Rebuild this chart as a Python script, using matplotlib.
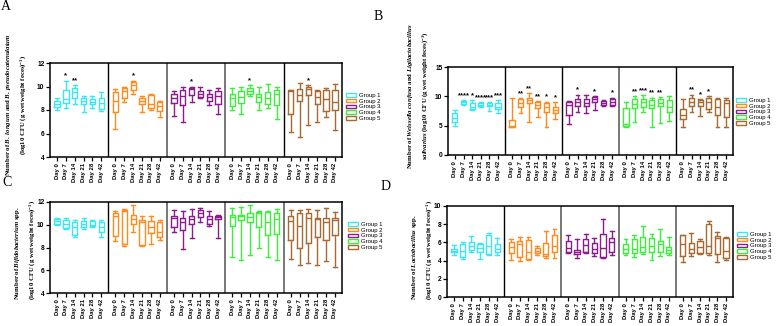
import matplotlib
matplotlib.use('Agg')
import matplotlib.pyplot as plt
from matplotlib.patches import Patch

plt.rcParams['font.family'] = ['Liberation Sans', 'DejaVu Sans']
plt.rcParams['mathtext.fontset'] = 'custom'
plt.rcParams['mathtext.rm'] = 'Liberation Serif:bold'
plt.rcParams['mathtext.it'] = 'Liberation Serif:italic:bold'
plt.rcParams['mathtext.bf'] = 'Liberation Serif:bold'

days = ['Day 0', 'Day 7', 'Day 14', 'Day 21', 'Day 28', 'Day 42']
groups = ['Group 1', 'Group 2', 'Group 3', 'Group 4', 'Group 5']
colors = ['#3ee6f4', '#ff8a1e', '#8a1c8c', '#3cef3c', '#a66a32']

# A: B. longum / B. pseudocatenulatum (group-major: g1 d0..d42, g2 ...)
a_lo = [8.0, 8.2, 8.5, 7.8, 8.2, 7.9, 6.4, 8.7, 9.4, 7.8, 8.0, 7.4, 7.5, 7.0, 8.7, 9.0, 8.4, 7.7,
        8.0, 7.7, 9.2, 8.0, 8.2, 7.2, 6.1, 5.7, 6.7, 7.0, 7.4, 6.3]
a_q1 = [8.25, 8.6, 9.0, 8.5, 8.5, 8.1, 7.8, 9.0, 9.7, 8.5, 8.2, 7.9, 8.6, 8.4, 9.3, 9.1, 8.8, 8.5,
        8.3, 8.6, 9.4, 8.7, 8.5, 8.4, 7.7, 8.8, 9.3, 8.5, 7.9, 8.0]
a_med = [8.5, 8.9, 9.5, 8.8, 8.7, 8.6, 8.8, 9.6, 10.1, 8.8, 8.5, 8.3, 9.0, 9.2, 9.8, 9.4, 9.1, 9.2,
         9.0, 9.1, 9.6, 9.1, 9.0, 9.4, 9.6, 9.3, 9.8, 9.1, 8.9, 8.7]
a_q3 = [8.75, 9.7, 9.9, 9.0, 8.9, 9.0, 9.5, 9.9, 10.4, 9.0, 9.3, 8.7, 9.4, 9.7, 9.9, 9.6, 9.4, 9.6,
        9.4, 9.6, 9.9, 9.4, 9.5, 9.7, 9.7, 9.8, 10.0, 9.6, 9.7, 9.7]
a_hi = [9.0, 10.5, 10.1, 9.2, 9.2, 9.5, 9.8, 10.0, 10.5, 9.2, 9.4, 8.8, 9.6, 10.0, 10.0, 10.0, 9.7, 9.9,
        9.9, 10.0, 10.1, 10.0, 10.2, 10.0, 9.7, 10.3, 10.1, 9.7, 9.9, 10.2]
a_sig = ['', '*', '**', '', '', '', '', '', '*', '', '', '', '', '', '*', '', '', '',
         '', '', '*', '', '', '', '', '', '*', '', '', '']

# B: Weissella confusa / Ligilactobacillus salivarius
b_lo = [5.0, 8.6, 7.6, 8.2, 7.5, 7.1, 4.7, 7.1, 5.7, 6.5, 4.7, 6.2, 5.3, 7.4, 7.2, 7.7, 8.3, 8.3,
        4.8, 5.7, 7.3, 4.7, 5.5, 5.8, 4.7, 7.3, 6.7, 7.4, 4.8, 4.8]
b_q1 = [5.6, 8.7, 7.8, 8.4, 8.4, 7.8, 4.8, 8.1, 8.9, 8.0, 7.3, 7.2, 6.9, 8.4, 8.3, 9.0, 8.5, 8.6,
        5.0, 8.0, 8.2, 8.0, 8.3, 7.3, 6.2, 8.4, 8.3, 7.8, 6.9, 6.4]
b_med = [6.3, 9.0, 8.2, 8.6, 8.6, 8.2, 5.0, 8.9, 9.3, 8.6, 8.1, 7.7, 8.5, 9.0, 8.9, 9.5, 8.9, 9.0,
         5.2, 8.7, 9.0, 8.6, 8.8, 8.1, 6.8, 9.0, 9.0, 9.0, 8.2, 8.8]
b_q3 = [7.1, 9.2, 8.9, 8.8, 8.9, 8.8, 5.9, 9.6, 9.7, 9.0, 8.8, 8.2, 9.0, 9.5, 9.5, 9.9, 9.2, 9.5,
        8.0, 9.5, 9.6, 9.4, 9.5, 9.3, 7.8, 9.7, 9.3, 9.7, 9.6, 9.3]
b_hi = [7.7, 9.3, 9.3, 9.0, 9.0, 9.3, 9.8, 9.7, 10.6, 9.2, 9.1, 9.0, 9.2, 10.3, 10.2, 10.1, 9.4, 9.8,
        9.1, 10.0, 10.2, 9.8, 9.9, 10.0, 9.5, 10.3, 9.5, 10.0, 9.8, 9.8]
b_sig = ['', '****', '*', '****', '***', '***', '', '**', '**', '**', '*', '*', '', '*', '', '*', '', '*',
         '', '**', '***', '**', '**', '', '', '**', '*', '*', '', '']

# C: Bifidobacterium spp.
c_lo = [10.0, 9.6, 8.9, 9.6, 9.8, 8.9, 8.6, 8.1, 9.4, 8.1, 8.3, 8.7, 9.4, 7.9, 8.8, 10.2, 9.9, 8.8,
        7.2, 6.9, 7.3, 8.0, 7.2, 6.9, 7.0, 6.5, 6.6, 6.5, 6.8, 6.3]
c_q1 = [10.1, 9.7, 9.1, 9.8, 9.9, 9.4, 9.0, 8.3, 10.1, 8.2, 9.3, 8.9, 9.8, 9.5, 10.1, 10.7, 10.1, 10.5,
        9.9, 10.4, 10.2, 9.8, 9.1, 9.2, 8.7, 8.0, 8.4, 8.9, 8.7, 9.1]
c_med = [10.3, 10.1, 9.8, 10.1, 10.0, 9.8, 10.8, 11.2, 10.5, 10.2, 9.8, 9.4, 10.6, 10.2, 10.5, 11.0, 10.5, 10.7,
         10.7, 10.8, 10.7, 11.0, 10.2, 10.5, 10.3, 9.9, 10.6, 10.5, 10.2, 10.4]
c_q3 = [10.5, 10.4, 10.2, 10.3, 10.3, 10.2, 11.0, 11.3, 10.9, 10.4, 10.3, 10.2, 10.8, 10.6, 10.8, 11.3, 10.8, 10.8,
        10.9, 10.9, 11.0, 11.1, 11.1, 11.0, 10.8, 11.0, 11.0, 10.6, 10.6, 10.6]
c_hi = [10.6, 10.6, 10.4, 10.6, 10.4, 10.4, 11.2, 11.4, 11.7, 10.8, 10.8, 10.4, 11.3, 11.2, 11.4, 11.5, 11.2, 10.9,
        11.5, 11.6, 11.7, 11.2, 11.2, 11.4, 11.3, 11.3, 11.4, 11.3, 11.5, 11.1]

# D: Lactobacillus spp.
d_lo = [4.6, 4.2, 4.9, 4.2, 4.6, 4.6, 4.1, 4.0, 4.1, 4.6, 4.3, 4.3, 4.8, 4.3, 4.8, 4.5, 4.3, 4.6,
        4.6, 4.4, 4.7, 4.1, 4.5, 4.6, 3.9, 4.5, 4.7, 4.6, 3.9, 4.1]
d_q1 = [4.9, 4.4, 5.2, 5.0, 4.7, 4.9, 4.8, 4.4, 4.2, 4.8, 4.5, 4.9, 4.9, 4.7, 5.0, 4.8, 4.4, 5.0,
        4.8, 4.8, 4.9, 4.9, 5.0, 4.8, 4.5, 4.8, 4.8, 4.8, 4.7, 4.3]
d_med = [5.1, 5.1, 5.6, 5.4, 5.6, 5.3, 5.5, 5.8, 5.0, 5.1, 4.7, 5.6, 5.4, 5.0, 5.7, 5.3, 5.4, 6.0,
         5.3, 5.3, 5.5, 5.6, 5.8, 5.2, 5.8, 5.3, 5.5, 5.6, 6.5, 5.1]
d_q3 = [5.3, 5.8, 6.0, 5.8, 6.8, 5.8, 6.0, 6.2, 6.3, 5.4, 5.9, 6.8, 6.1, 5.2, 6.4, 5.9, 6.9, 6.5,
        5.8, 6.4, 6.6, 6.5, 6.2, 5.5, 6.8, 5.9, 6.1, 8.0, 6.7, 6.5]
d_hi = [5.7, 6.0, 6.7, 5.9, 7.0, 6.5, 6.4, 6.6, 6.6, 5.6, 7.3, 7.5, 6.8, 6.4, 6.9, 6.5, 8.6, 7.2,
        6.4, 6.8, 7.8, 6.9, 7.5, 6.6, 6.8, 7.0, 6.4, 8.3, 7.1, 6.6]

GW = 6.6  # width of one group on the x axis


def draw(ax, lo, q1, med, q3, hi, sig, ylim, yticks, seps):
    pos = [g * GW + 0.8 + d for g in range(5) for d in range(6)]
    stats = [dict(whislo=lo[k], q1=q1[k], med=med[k], q3=q3[k], whishi=hi[k]) for k in range(30)]
    for g in range(5):
        c = colors[g]
        lp = dict(color=c, lw=1.0)
        ax.bxp(stats[g * 6:(g + 1) * 6], positions=pos[g * 6:(g + 1) * 6], widths=0.6,
               capwidths=0.45, showfliers=False, manage_ticks=False,
               boxprops=lp, whiskerprops=lp, capprops=lp, medianprops=lp)
    for g in range(1, 5):
        ax.axvline(g * GW, color=seps[g - 1], lw=1.0 if seps[g - 1] == 'black' else 1.4)
    rng = ylim[1] - ylim[0]
    for k in range(30):
        if sig[k]:
            ax.text(pos[k], hi[k] + 0.01 * rng, sig[k], ha='center', va='bottom',
                    fontsize=5.5, fontweight='bold')
    ax.set_xlim(0, 5 * GW)
    ax.set_ylim(*ylim)
    ax.set_yticks(yticks)
    ax.set_xticks(pos)
    ax.set_xticklabels(days * 5, rotation=90, fontsize=4.3, fontweight='bold')
    ax.tick_params(axis='y', labelsize=4.8, length=3, width=0.9, pad=1)
    ax.tick_params(axis='x', length=3, width=0.9, pad=1.5)
    for lab in ax.get_yticklabels():
        lab.set_fontweight('bold')
    for s in ax.spines.values():
        s.set_linewidth(1.1)


fig = plt.figure(figsize=(7.76, 3.26), dpi=100)
W, H = 776, 326


def box(l, t, r, b):
    return [l / W, 1 - b / H, (r - l) / W, (b - t) / H]


axA = fig.add_axes(box(50, 63, 342, 157))
axB = fig.add_axes(box(448, 67, 733, 155))
axC = fig.add_axes(box(50, 202, 342, 293))
axD = fig.add_axes(box(447, 206, 733, 297))

draw(axA, a_lo, a_q1, a_med, a_q3, a_hi, a_sig, (4, 12), [4, 6, 8, 10, 12],
     ['black', '#777777', '#777777', 'black'])
draw(axB, b_lo, b_q1, b_med, b_q3, b_hi, b_sig, (0, 15), [0, 5, 10, 15],
     ['black', 'black', '#777777', 'black'])
draw(axC, c_lo, c_q1, c_med, c_q3, c_hi, [''] * 30, (4, 12), [4, 6, 8, 10, 12],
     ['black', '#777777', '#777777', '#777777'])
draw(axD, d_lo, d_q1, d_med, d_q3, d_hi, [''] * 30, (0, 10), [0, 2, 4, 6, 8, 10],
     ['black', '#777777', '#777777', '#777777'])

unit = r'(log10 CFU (g wet weight feces)$^{-1}$)'
labels = [
    (r'Number of $\mathit{B.\ longum}$ and $\mathit{B.\ pseudocatenulatum}$' + '\n' + unit, 16, 105, 'center'),
    (r'Number of $\mathit{Weissella\ confusa}$ and $\mathit{Ligilactobacillus}$' + '\n'
     + r'$\mathit{salivarius}$ (log10 CFU (g wet weight feces)$^{-1}$)', 418, 96, 'center'),
    (r'Number of $\mathit{Bifidobacterium}$ spp.' + '\n' + unit, 25, 250, 'left'),
    (r'Number of $\mathit{Lactobacillus}$ spp.' + '\n' + unit, 422, 250, 'left'),
]
for txt, x, y, al in labels:
    fig.text(x / W, 1 - y / H, txt, rotation=90, ha='center', va='center', multialignment=al,
             fontsize=4.9, fontweight='bold', family='Liberation Serif', linespacing=1.9)

for letter, x, y in [('A', 6, 6), ('B', 378, 17), ('C', 7, 183), ('D', 386, 187)]:
    fig.text(x / W, 1 - y / H, letter, ha='center', va='center', fontsize=10,
             family='Liberation Serif')

handles = [Patch(facecolor='white', edgecolor=c, lw=1.0) for c in colors]
for x, y in [(346, 93), (736, 98), (348, 222), (737, 232)]:
    fig.legend(handles, groups, loc='upper left', bbox_to_anchor=(x / W, 1 - y / H),
               frameon=False, fontsize=4.3, handlelength=1.6, handleheight=0.55,
               labelspacing=0.12, handletextpad=0.6, borderpad=0, borderaxespad=0)

fig.savefig('out.png', dpi=100)
